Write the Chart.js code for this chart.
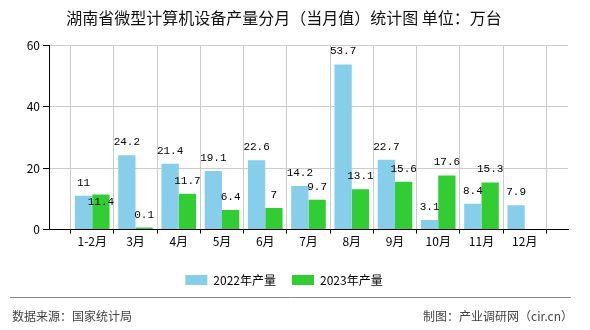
<!DOCTYPE html>
<html>
<head>
<meta charset="utf-8">
<script src="https://cdn.jsdelivr.net/npm/chart.js@4.4.1/dist/chart.umd.min.js"></script>
<style>
  html, body { margin: 0; padding: 0; background: #fff; }
  #box { width: 590px; height: 330px; position: relative; }
</style>
</head>
<body>
<div id="box"><canvas id="prodChart"></canvas></div>
<script>
// 湖南省微型计算机设备产量 (万台)
const categories = ['1-2月', '3月', '4月', '5月', '6月', '7月', '8月', '9月', '10月', '11月', '12月'];
const output2022 = [11, 24.2, 21.4, 19.1, 22.6, 14.2, 53.7, 22.7, 3.1, 8.4, 7.9];
const output2023 = [11.4, 0.1, 11.7, 6.4, 7, 9.7, 13.1, 15.6, 17.6, 15.3, null];
const yTicks = [0, 20, 40, 60];

const CJK = '"Noto Sans CJK SC", "Noto Sans", sans-serif';
const MONO = '"Liberation Mono", "DejaVu Sans Mono", monospace';

// empty slot at each end so the bars sit one step away from the axis edges
const xLabels = [''].concat(categories, ['']);
const pad = arr => [null].concat(arr, [null]);

// value labels above bars; a label that would hit its neighbour goes inside the bar
const valueLabels = {
    id: 'valueLabels',
    afterDatasetsDraw(chart) {
        const ctx = chart.ctx;
        ctx.save();
        ctx.font = '11px ' + MONO;
        ctx.fillStyle = '#000';
        ctx.textAlign = 'center';
        ctx.textBaseline = 'middle';
        const placed = [];
        chart.data.datasets.forEach((ds, di) => {
            const meta = chart.getDatasetMeta(di);
            meta.data.forEach((bar, i) => {
                const v = ds.data[i];
                if (v === null || v === undefined) return;
                const txt = String(v);
                const w = ctx.measureText(txt).width;
                let y = bar.y - 13;
                const hit = placed.some(p => p.i === i &&
                    Math.abs(p.x - bar.x) < (p.w + w) / 2 &&
                    Math.abs(p.y - y) < 12);
                if (hit) y = bar.y + 8;
                placed.push({ i: i, x: bar.x, y: y, w: w });
                ctx.fillText(txt, bar.x, y);
            });
        });
        ctx.restore();
    }
};

const footer = {
    id: 'footer',
    afterDraw(chart) {
        const ctx = chart.ctx;
        ctx.save();
        ctx.strokeStyle = '#888';
        ctx.lineWidth = 1;
        ctx.beginPath();
        ctx.moveTo(10, 297.5);
        ctx.lineTo(571, 297.5);
        ctx.stroke();
        ctx.font = '12px ' + CJK;
        ctx.fillStyle = '#444';
        ctx.textBaseline = 'middle';
        ctx.textAlign = 'left';
        ctx.fillText('数据来源：国家统计局', 12, 316);
        ctx.textAlign = 'right';
        ctx.fillText('制图：产业调研网（cir.cn）', 573, 316);
        ctx.restore();
    }
};

new Chart(document.getElementById('prodChart'), {
    type: 'bar',
    data: {
        labels: xLabels,
        datasets: [
            {
                label: '2022年产量',
                data: pad(output2022),
                backgroundColor: '#87CEEB'
            },
            {
                label: '2023年产量',
                data: pad(output2023),
                backgroundColor: '#32CD32',
                minBarLength: 2
            }
        ]
    },
    options: {
        responsive: true,
        maintainAspectRatio: false,
        animation: false,
        layout: { padding: { left: 0, right: 22, top: 0, bottom: 34 } },
        datasets: { bar: { categoryPercentage: 0.8, barPercentage: 1 } },
        scales: {
            x: {
                offset: false,
                afterFit: scale => { scale.height += 8; },
                grid: { color: '#cccccc', tickColor: '#000', tickLength: 4 },
                border: { color: '#000', width: 1 },
                ticks: { font: { size: 12, family: CJK }, color: '#000', padding: 1, maxRotation: 0, autoSkip: false }
            },
            y: {
                min: yTicks[0],
                max: yTicks[yTicks.length - 1],
                afterBuildTicks: scale => { scale.ticks = yTicks.map(v => ({ value: v })); },
                afterFit: scale => { scale.width = 49; },
                grid: { color: '#cccccc', tickColor: '#000', tickLength: 6 },
                border: { color: '#000', width: 1 },
                ticks: { font: { size: 12, family: CJK }, color: '#000', padding: 3 }
            }
        },
        plugins: {
            title: {
                display: true,
                text: '湖南省微型计算机设备产量分月（当月值）统计图 单位：万台',
                font: { size: 16, family: CJK, weight: 'normal' },
                color: '#111',
                padding: { top: 8, bottom: 18 }
            },
            legend: {
                position: 'bottom',
                labels: {
                    boxWidth: 22,
                    boxHeight: 10,
                    padding: 16,
                    font: { size: 12, family: CJK },
                    color: '#000'
                }
            },
            tooltip: { enabled: false }
        }
    },
    plugins: [valueLabels, footer]
});
</script>
</body>
</html>
